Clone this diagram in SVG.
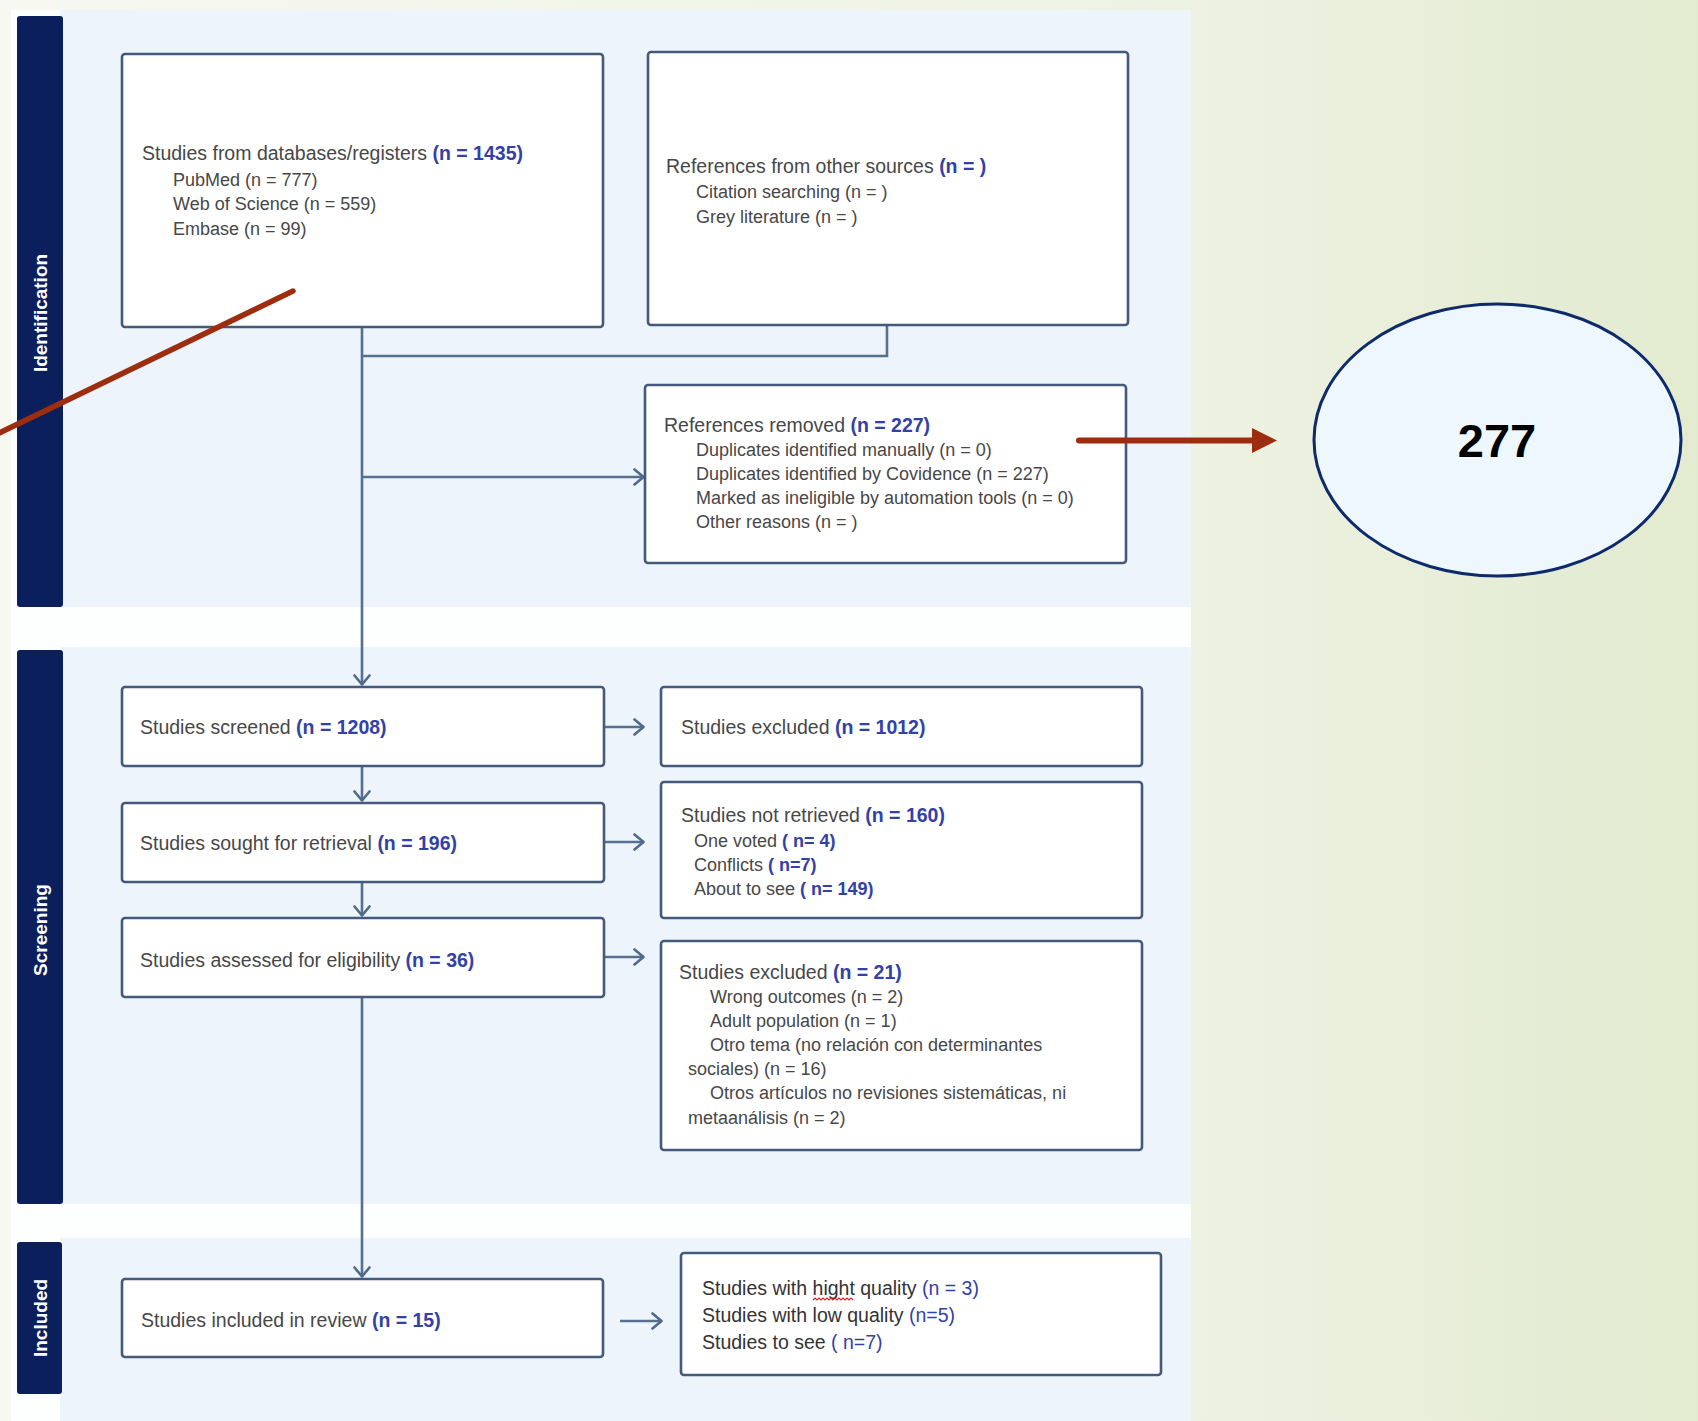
<svg xmlns="http://www.w3.org/2000/svg" width="1698" height="1421" viewBox="0 0 1698 1421">
<defs>
<linearGradient id="bg" x1="0" y1="0" x2="1" y2="0">
<stop offset="0" stop-color="#F7F8F1"/>
<stop offset="0.7" stop-color="#EEF2E3"/>
<stop offset="1" stop-color="#E2EACF"/>
</linearGradient>
<marker id="chev" viewBox="0 0 12 18" refX="11" refY="9" markerWidth="12" markerHeight="18" markerUnits="userSpaceOnUse" orient="auto">
<path d="M1.5,1.5 L10.5,9 L1.5,16.5" fill="none" stroke="#4F6A8C" stroke-width="2.6" stroke-linecap="round" stroke-linejoin="round"/>
</marker>
<style>
.box{fill:#FFFFFF;stroke:#435A7C;stroke-width:2.6}
.side{fill:#0B1F5C}
.sec{fill:#EDF4FC}
.con{fill:none;stroke:#56708F;stroke-width:2.6}
.t{font-family:"Liberation Sans",Arial,sans-serif;fill:#474747}
.h{font-size:19.5px}
.s{font-size:18px}
.n{fill:#3241A8;font-weight:bold}
.nr{fill:#3241A8;font-weight:normal}
.k{fill:#333333}
.lab{font-family:"Liberation Sans",Arial,sans-serif;font-size:19px;font-weight:bold;fill:#FFFFFF}
</style>
</defs>
<rect x="0" y="0" width="1698" height="1421" fill="url(#bg)"/>
<rect x="11" y="10" width="1180" height="1411" fill="#FDFEFE"/>
<rect class="sec" x="60" y="10" width="1131" height="597"/>
<rect class="sec" x="60" y="647" width="1131" height="557"/>
<rect class="sec" x="60" y="1238" width="1131" height="183"/>
<g id="side-identification"><rect class="side" x="17" y="16" width="46" height="591" rx="3"/><text class="lab" transform="translate(40,313) rotate(-90)" text-anchor="middle" dominant-baseline="central">Identification</text></g>
<g id="side-screening"><rect class="side" x="17" y="650" width="46" height="554" rx="3"/><text class="lab" transform="translate(40,930) rotate(-90)" text-anchor="middle" dominant-baseline="central">Screening</text></g>
<g id="side-included"><rect class="side" x="17" y="1242" width="45" height="152" rx="3"/><text class="lab" transform="translate(40,1318) rotate(-90)" text-anchor="middle" dominant-baseline="central">Included</text></g>
<g id="connectors">
<path class="con" d="M362,327 V685" marker-end="url(#chev)"/>
<path class="con" d="M887,325 V356 H362"/>
<path class="con" d="M362,477 H644" marker-end="url(#chev)"/>
<path class="con" d="M362,766 V801" marker-end="url(#chev)"/>
<path class="con" d="M362,882 V916" marker-end="url(#chev)"/>
<path class="con" d="M362,997 V1277" marker-end="url(#chev)"/>
<path class="con" d="M604,727 H644" marker-end="url(#chev)"/>
<path class="con" d="M604,842 H644" marker-end="url(#chev)"/>
<path class="con" d="M604,957 H644" marker-end="url(#chev)"/>
<path class="con" d="M620,1321 H662" marker-end="url(#chev)"/>
</g>
<g id="box-databases"><rect class="box" x="122" y="54" width="481" height="273" rx="3"/>
<text class="t h" x="142" y="160">Studies from databases/registers <tspan class="n">(n = 1435)</tspan></text>
<text class="t s" x="173" y="186">PubMed (n = 777)</text>
<text class="t s" x="173" y="210">Web of Science (n = 559)</text>
<text class="t s" x="173" y="235">Embase (n = 99)</text></g>
<g id="box-other"><rect class="box" x="648" y="52" width="480" height="273" rx="3"/>
<text class="t h" x="666" y="173">References from other sources <tspan class="n">(n = )</tspan></text>
<text class="t s" x="696" y="198">Citation searching (n = )</text>
<text class="t s" x="696" y="223">Grey literature (n = )</text></g>
<g id="box-removed"><rect class="box" x="645" y="385" width="481" height="178" rx="3"/>
<text class="t h" x="664" y="432">References removed <tspan class="n">(n = 227)</tspan></text>
<text class="t s" x="696" y="456">Duplicates identified manually (n = 0)</text>
<text class="t s" x="696" y="480">Duplicates identified by Covidence (n = 227)</text>
<text class="t s" x="696" y="504">Marked as ineligible by automation tools (n = 0)</text>
<text class="t s" x="696" y="528">Other reasons (n = )</text></g>
<g id="box-screened"><rect class="box" x="122" y="687" width="482" height="79" rx="3"/>
<text class="t h" x="140" y="734">Studies screened <tspan class="n">(n = 1208)</tspan></text></g>
<g id="box-sought"><rect class="box" x="122" y="803" width="482" height="79" rx="3"/>
<text class="t h" x="140" y="850">Studies sought for retrieval <tspan class="n">(n = 196)</tspan></text></g>
<g id="box-assessed"><rect class="box" x="122" y="918" width="482" height="79" rx="3"/>
<text class="t h" x="140" y="967">Studies assessed for eligibility <tspan class="n">(n = 36)</tspan></text></g>
<g id="box-excluded-1012"><rect class="box" x="661" y="687" width="481" height="79" rx="3"/>
<text class="t h" x="681" y="734">Studies excluded <tspan class="n">(n = 1012)</tspan></text></g>
<g id="box-not-retrieved"><rect class="box" x="661" y="782" width="481" height="136" rx="3"/>
<text class="t h" x="681" y="822">Studies not retrieved <tspan class="n">(n = 160)</tspan></text>
<text class="t s" x="694" y="847">One voted <tspan class="n">( n= 4)</tspan></text>
<text class="t s" x="694" y="871">Conflicts <tspan class="n">( n=7)</tspan></text>
<text class="t s" x="694" y="895">About to see <tspan class="n">( n= 149)</tspan></text></g>
<g id="box-excluded-21"><rect class="box" x="661" y="941" width="481" height="209" rx="3"/>
<text class="t h" x="679" y="979">Studies excluded <tspan class="n">(n = 21)</tspan></text>
<text class="t s" x="710" y="1003">Wrong outcomes (n = 2)</text>
<text class="t s" x="710" y="1027">Adult population (n = 1)</text>
<text class="t s" x="710" y="1051">Otro tema (no relación con determinantes</text>
<text class="t s" x="688" y="1075">sociales) (n = 16)</text>
<text class="t s" x="710" y="1099">Otros artículos no revisiones sistemáticas, ni</text>
<text class="t s" x="688" y="1124">metaanálisis (n = 2)</text></g>
<g id="box-included"><rect class="box" x="122" y="1279" width="481" height="78" rx="3"/>
<text class="t h" x="141" y="1327">Studies included in review <tspan class="n">(n = 15)</tspan></text></g>
<g id="box-quality"><rect class="box" x="681" y="1253" width="480" height="122" rx="3"/>
<text class="t h k" x="702" y="1295">Studies with hight quality <tspan class="nr">(n = 3)</tspan></text>
<path d="M813,1300 l2,-2 l2,2 l2,-2 l2,2 l2,-2 l2,2 l2,-2 l2,2 l2,-2 l2,2 l2,-2 l2,2 l2,-2 l2,2 l2,-2 l2,2 l2,-2 l2,2 l2,-2 l2,2" fill="none" stroke="#D42A2A" stroke-width="1.2"/>
<text class="t h k" x="702" y="1322">Studies with low quality <tspan class="nr">(n=5)</tspan></text>
<text class="t h k" x="702" y="1349">Studies to see <tspan class="nr">( n=7)</tspan></text></g>
<g id="annotation">
<path d="M293,291 L-5,435" stroke="#9E2D10" stroke-width="5.5" stroke-linecap="round" fill="none"/>
<path d="M1079,440.5 H1254" stroke="#9E2D10" stroke-width="6" stroke-linecap="round" fill="none"/>
<polygon points="1252,428 1277,440.5 1252,453" fill="#9E2D10"/>
</g>
<g id="node-277">
<ellipse cx="1497.5" cy="440" rx="183.5" ry="136" fill="#EEF6FE" stroke="#0D2A6B" stroke-width="3"/>
<text x="1497" y="457" text-anchor="middle" font-family="Liberation Sans, Arial, sans-serif" font-weight="bold" font-size="47" fill="#000000">277</text>
</g>
</svg>
